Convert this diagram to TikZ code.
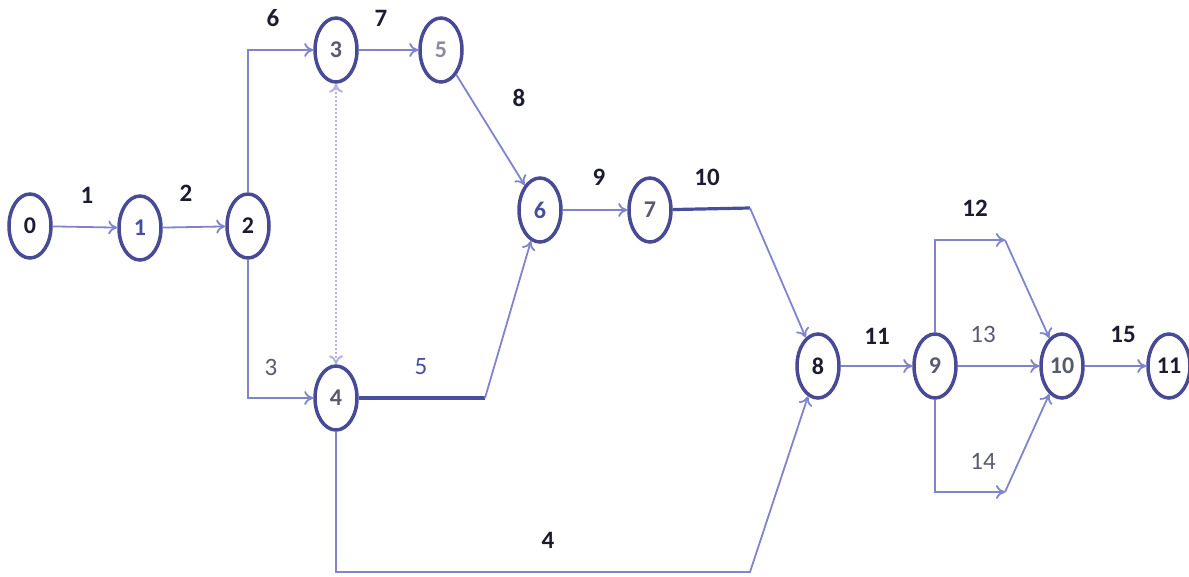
\documentclass[tikz,border=0pt]{standalone}
\usepackage{fontspec}
\setmainfont{Carlito}
\usetikzlibrary{arrows.meta,shapes.geometric}
\definecolor{edgeblue}{RGB}{128,132,204}
\definecolor{ringblue}{RGB}{72,74,150}
\definecolor{darkblue}{RGB}{70,78,160}
\definecolor{labelink}{RGB}{28,28,48}
\definecolor{greyink}{RGB}{90,90,110}
\tikzset{
  event/.style={ellipse, draw=ringblue, line width=3.5pt, fill=white,
    minimum width=42pt, minimum height=64pt, inner sep=0pt,
    text=greyink, font=\fontsize{24}{28}\selectfont\bfseries},
  act/.style={draw=edgeblue, line width=1.8pt, -{To[length=9pt,width=14pt]}},
  heavy/.style={draw=darkblue, line width=3.2pt},
  dummy/.style={draw=edgeblue!60, line width=2pt, dotted,
    {To[length=9pt,width=14pt]}-{To[length=9pt,width=14pt]}},
  lbl/.style={text=labelink, font=\fontsize{25}{28}\selectfont\bfseries},
  softlbl/.style={lbl, text=greyink, font=\fontsize{25}{28}\selectfont}
}
\begin{document}
\begin{tikzpicture}[x=1pt,y=-1pt]
			\useasboundingbox (0,0) rectangle (1189,576);
			
			% events
			\node[event, text=labelink] (n0) at (30,226) {0};
			\node[event, text=darkblue] (n1) at (140,228) {1};
			\node[event, text=labelink] (n2) at (248,226) {2};
			\node[event] (n3) at (336,50) {3};
			\node[event, text=greyink!70] (n5) at (441,50) {5};
			\node[event] (n4) at (336,398) {4};
			\node[event, text=darkblue] (n6) at (540,210) {6};
			\node[event] (n7) at (650,210) {7};
			\node[event, text=labelink] (n8) at (818,366) {8};
			\node[event] (n9) at (935,366) {9};
			\node[event] (n10) at (1062,366) {10};
			\node[event, text=labelink] (n11) at (1169,366) {11};
			
			% bend points
			\coordinate (c5) at (485,398);
			\coordinate (c10) at (750,208);
			\coordinate (c4) at (750,572);
			\coordinate (c12) at (1005,240);
			\coordinate (c14) at (1005,492);
			
			% activities
			\draw[act] (n0) -- (n1);
			\draw[act] (n1) -- (n2);
			\draw[act] (n2.north) |- (n3);
			\draw[act] (n3) -- (n5);
			\draw[act] (n2.south) |- (n4);
			\draw[dummy] (n4) -- (n3);
			\draw[act] (n5) -- (n6);
			\draw[heavy] (n4) -- (c5);
			\draw[act] (c5) -- (n6);
			\draw[act] (n6) -- (n7);
			\draw[heavy] (n7) -- (c10);
			\draw[act] (c10) -- (n8);
			\draw[act] (n4.south) |- (c4) -- (n8);
			\draw[act] (n8) -- (n9);
			\draw[act] (n9.north) |- (c12);
			\draw[act] (c12) -- (n10);
			\draw[act] (n9) -- (n10);
			\draw[act] (n9.south) |- (c14);
			\draw[act] (c14) -- (n10);
			\draw[act] (n10) -- (n11);
			
			% activity numbers
			\node[lbl] (l1) at (87,195) {1};
			\node[lbl] (l2) at (186,193) {2};
			\node[softlbl] (l3) at (271,367) {3};
			\node[lbl] (l4) at (548,540) {4};
			\node[softlbl, text=darkblue] (l5) at (421,367) {5};
			\node[lbl] (l6) at (273,18) {6};
			\node[lbl] (l7) at (381,18) {7};
			\node[lbl] (l8) at (519,98) {8};
			\node[lbl] (l9) at (599,177) {9};
			\node[lbl] (l10) at (707,177) {10};
			\node[lbl] (l11) at (877,336) {11};
			\node[lbl] (l12) at (975,208) {12};
			\node[softlbl] (l13) at (983,334) {13};
			\node[softlbl] (l14) at (983,461) {14};
			\node[lbl] (l15) at (1123,334) {15};
		\end{tikzpicture}
\end{document}
